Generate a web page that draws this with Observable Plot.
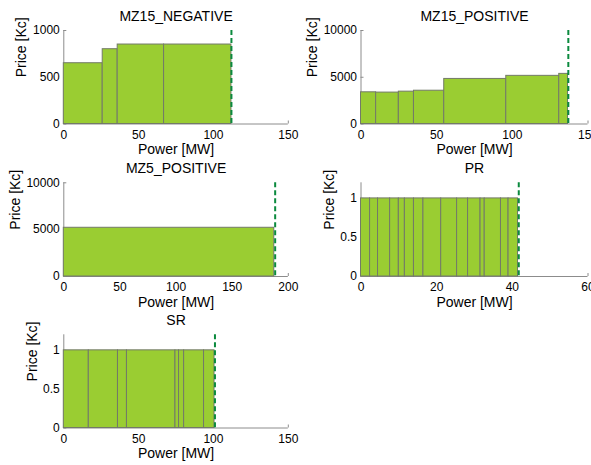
<!DOCTYPE html>
<html><head><meta charset="utf-8">
<script src="https://cdn.jsdelivr.net/npm/d3@7"></script>
<script src="https://cdn.jsdelivr.net/npm/@observablehq/plot@0.6"></script>
<style>
html,body{margin:0;padding:0;overflow:hidden;background:#fff}
#fig{position:relative;width:591px;height:465px;overflow:hidden;background:#fff}
#fig svg{position:absolute;left:0;top:0}
</style></head><body><div id="fig"></div>
<script>
// ---- data ----
const panelTitles = ["MZ15_NEGATIVE", "MZ15_POSITIVE", "MZ5_POSITIVE", "PR", "SR"];
const xLabel = "Power [MW]";
const yLabel = "Price [Kc]";

// step edges (cumulative power, MW) and step prices (Kc)
const mz15NegEdges  = [0, 26, 36, 67, 112];
const mz15NegPrices = [650, 800, 850, 850];
const mz15NegDemand = 112;

const mz15PosEdges  = [0, 10, 25, 35, 55, 96, 131, 136.8];
const mz15PosPrices = [3390, 3360, 3460, 3560, 4820, 5150, 5360];
const mz15PosDemand = 137;

const mz5PosEdges  = [0, 187.5];
const mz5PosPrices = [5200];
const mz5PosDemand = 188.3;

const prEdges  = [0, 2.4, 4.5, 7.7, 10, 11.6, 14, 16.5, 21.2, 25.4, 28.3, 31.6, 32.7, 37, 39, 41.5];
const prPrices = [1, 1, 1, 1, 1, 1, 1, 1, 1, 1, 1, 1, 1, 1, 1];
const prDemand = 41.7;

const srEdges  = [0, 16.7, 36.2, 42.2, 74.6, 77, 80.4, 93.7, 100.7];
const srPrices = [1, 1, 1, 1, 1, 1, 1, 1];
const srDemand = 101;

// axis ticks
const xTicks150 = [0, 50, 100, 150];
const xTicks200 = [0, 50, 100, 150, 200];
const xTicks60  = [0, 20, 40, 60];
const yTicks1000  = [0, 500, 1000];
const yTicks10000 = [0, 5000, 10000];
const yTicks1     = [0, 0.5, 1];

// ---- layout (frame boxes in page pixels) ----
const W = 591, H = 465;
const panels = [
  {title: panelTitles[0], edges: mz15NegEdges, prices: mz15NegPrices, demand: mz15NegDemand,
   xDomain: [0, 150], xTicks: xTicks150, yDomain: [0, 1000], yTicks: yTicks1000,
   box: {l: 63.3, r: 287.8, t: 30, b: 123.5}, ylabOff: 38},
  {title: panelTitles[1], edges: mz15PosEdges, prices: mz15PosPrices, demand: mz15PosDemand,
   xDomain: [0, 150], xTicks: xTicks150, yDomain: [0, 10000], yTicks: yTicks10000,
   box: {l: 360.5, r: 587.5, t: 30, b: 123.5}, ylabOff: 44},
  {title: panelTitles[2], edges: mz5PosEdges, prices: mz5PosPrices, demand: mz5PosDemand,
   xDomain: [0, 200], xTicks: xTicks200, yDomain: [0, 10000], yTicks: yTicks10000,
   box: {l: 63.3, r: 287.8, t: 182.3, b: 276}, ylabOff: 44},
  {title: panelTitles[3], edges: prEdges, prices: prPrices, demand: prDemand,
   xDomain: [0, 60], xTicks: xTicks60, yDomain: [0, 1.2], yTicks: yTicks1,
   box: {l: 360.5, r: 587.5, t: 182.3, b: 276}, ylabOff: 27},
  {title: panelTitles[4], edges: srEdges, prices: srPrices, demand: srDemand,
   xDomain: [0, 150], xTicks: xTicks150, yDomain: [0, 1.2], yTicks: yTicks1,
   box: {l: 63.3, r: 287.8, t: 334.3, b: 427.5}, ylabOff: 27}
];

const axisGray = "#8c8c8c";
const font = "'Liberation Sans', Arial, Helvetica, sans-serif";
const fig = document.getElementById("fig");

for (const p of panels) {
  const steps = p.prices.map((price, i) => ({x1: p.edges[i], x2: p.edges[i + 1], price}));
  const chart = Plot.plot({
    width: W, height: H,
    marginLeft: p.box.l, marginRight: W - p.box.r, marginTop: p.box.t, marginBottom: H - p.box.b,
    x: {domain: p.xDomain, label: null},
    y: {domain: p.yDomain, label: null},
    style: {background: "transparent", fontFamily: font, fontSize: "12px", color: "black", overflow: "hidden"},
    marks: [
      Plot.ruleX([p.xDomain[0]], {stroke: axisGray, strokeWidth: 1}),
      Plot.ruleY([p.yDomain[0]], {stroke: axisGray, strokeWidth: 1}),
      Plot.axisX(p.xTicks, {tickSize: -3, stroke: axisGray, tickFormat: () => "", label: null}),
      Plot.axisY(p.yTicks, {tickSize: -3, stroke: axisGray, tickFormat: () => "", label: null}),
      Plot.axisX(p.xTicks, {tickSize: 0, tickPadding: 6, tickFormat: d => String(d), label: null, fill: "black"}),
      Plot.axisY(p.yTicks, {tickSize: 0, tickPadding: 4, tickFormat: d => String(d), label: null, fill: "black"}),
      Plot.rect(steps, {x1: "x1", x2: "x2", y1: () => p.yDomain[0], y2: "price",
        fill: "#9acd32", stroke: "#737a68", strokeWidth: 1}),
      Plot.ruleX([p.demand], {stroke: "#0b8a3e", strokeWidth: 2, strokeDasharray: "5,3"}),
      Plot.text([p.title], {text: d => d, frameAnchor: "top", dy: -9.5, lineAnchor: "bottom", fontSize: 14}),
      Plot.text([xLabel], {text: d => d, frameAnchor: "bottom", dy: 30, lineAnchor: "bottom", fontSize: 14}),
      Plot.text([yLabel], {text: d => d, frameAnchor: "left", dx: -p.ylabOff, rotate: -90, lineAnchor: "bottom", fontSize: 14})
    ]
  });
  fig.appendChild(chart);
}
</script>
</body></html>
